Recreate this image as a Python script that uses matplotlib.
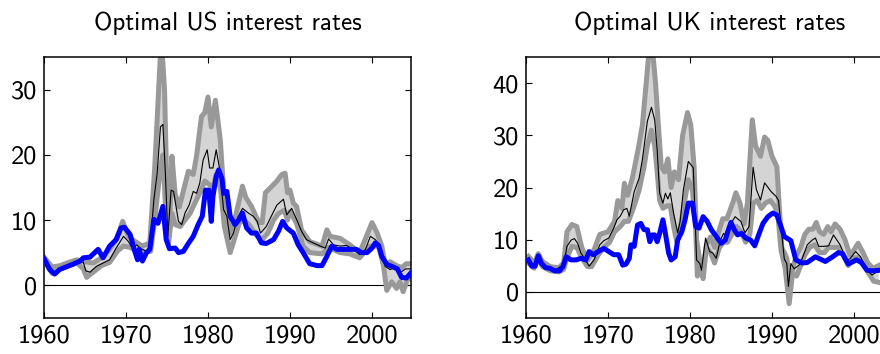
import matplotlib
matplotlib.use("Agg")
import matplotlib.pyplot as plt

plt.rcParams["font.family"] = ["cmss10", "DejaVu Sans"]
plt.rcParams["axes.unicode_minus"] = False

# ---- US ----
us_opt_yr = [1960.0, 1960.7, 1961.3, 1961.9, 1962.7, 1963.5, 1964.4, 1964.8, 1965.6, 1966.6,
             1967.2, 1968.0, 1968.8, 1969.4, 1969.8, 1970.5, 1971.0, 1971.4, 1971.6, 1972.0,
             1972.5, 1972.9, 1973.4, 1973.9, 1974.5, 1974.9, 1975.3, 1976.0, 1976.4, 1977.0,
             1977.6, 1978.2, 1978.8, 1979.3, 1979.7, 1980.1, 1980.4, 1980.6, 1981.0, 1981.3,
             1981.7, 1981.9, 1982.3, 1982.7, 1983.3, 1983.8, 1984.2, 1984.7, 1985.3, 1985.9,
             1986.5, 1987.1, 1988.0, 1988.6, 1989.1, 1989.6, 1990.4, 1991.0, 1991.6, 1992.4,
             1993.3, 1993.9, 1994.4, 1995.1, 1995.7, 1996.9, 1998.1, 1998.7, 1999.4, 2000.0,
             2000.4, 2000.8, 2001.2, 2001.8, 2002.4, 2003.1, 2003.6, 2004.2, 2004.75]
us_opt = [4.1, 2.4, 1.7, 2.4, 2.8, 3.2, 3.7, 4.2, 4.3, 5.5,
          4.2, 6.0, 7.0, 8.8, 8.9, 7.8, 5.5, 3.9, 5.5, 3.7,
          5.0, 5.5, 10.1, 9.5, 12.1, 7.0, 5.6, 5.7, 5.0, 5.2,
          6.4, 7.5, 9.3, 10.6, 14.6, 14.6, 9.8, 13.6, 16.7, 17.7,
          16.4, 14.1, 14.4, 10.6, 9.3, 10.1, 11.1, 8.8, 8.0, 8.0,
          6.5, 6.4, 7.0, 8.3, 9.8, 8.8, 8.0, 6.2, 5.0, 3.3,
          3.0, 3.0, 4.2, 6.0, 5.5, 5.5, 5.5, 5.0, 5.0, 5.7,
          6.5, 6.1, 4.4, 3.2, 2.9, 2.5, 1.2, 1.1, 1.9]

us_med_yr = [1960.0, 1960.7, 1961.3, 1961.9, 1962.7, 1963.5, 1964.4, 1964.8, 1965.1, 1965.6,
             1966.4, 1967.2, 1968.0, 1968.8, 1969.7, 1970.3, 1970.8, 1971.3, 1971.7, 1972.5,
             1972.9, 1973.4, 1973.8, 1974.2, 1974.5, 1974.8, 1975.1, 1975.5, 1975.8, 1976.4,
             1976.8, 1977.2, 1977.7, 1978.2, 1978.6, 1979.0, 1979.4, 1979.9, 1980.2, 1980.6,
             1981.0, 1981.4, 1981.9, 1982.3, 1982.7, 1983.1, 1983.6, 1984.2, 1984.9, 1985.5,
             1986.0, 1986.4, 1987.1, 1987.8, 1988.4, 1989.2, 1989.6, 1990.2, 1990.8, 1991.4,
             1992.0, 1992.8, 1993.7, 1994.3, 1994.7, 1995.3, 1996.1, 1996.9, 1997.7, 1998.5,
             1999.2, 1999.8, 2000.4, 2001.0, 2001.6, 2002.2, 2002.8, 2003.4, 2004.1, 2004.75]
us_med = [4.0, 2.9, 1.9, 2.4, 2.8, 3.2, 3.7, 3.5, 2.2, 2.0,
          2.9, 3.4, 3.9, 5.7, 7.5, 6.7, 5.6, 6.2, 5.7, 5.2,
          5.5, 13.1, 17.2, 24.3, 24.7, 17.2, 7.5, 14.6, 14.4, 9.8,
          9.3, 11.1, 12.3, 14.4, 14.1, 15.7, 19.2, 20.8, 18.0, 18.0,
          20.8, 18.0, 11.6, 10.6, 7.0, 8.0, 10.3, 11.8, 11.1, 10.6,
          9.8, 8.0, 9.0, 10.8, 12.3, 13.2, 10.8, 11.8, 10.1, 8.3,
          7.0, 6.5, 6.0, 5.7, 7.1, 6.2, 6.0, 6.1, 5.5, 4.7,
          5.5, 7.5, 7.0, 6.0, 2.9, 2.4, 2.7, 1.9, 2.5, 2.5]

us_hi_yr = [1960.0, 1961.0, 1962.0, 1963.0, 1964.0, 1965.0, 1966.0, 1967.0, 1968.0, 1968.8,
            1969.6, 1970.3, 1971.0, 1972.0, 1972.9, 1973.5, 1973.9, 1974.3, 1974.7, 1975.0,
            1975.3, 1975.6, 1976.0, 1976.5, 1977.0, 1977.6, 1978.2, 1978.6, 1979.2, 1979.6,
            1980.0, 1980.4, 1980.9, 1981.5, 1981.9, 1982.3, 1982.7, 1983.3, 1984.2, 1984.6,
            1985.3, 1986.2, 1986.6, 1987.0, 1987.8, 1988.4, 1989.0, 1989.4, 1989.7, 1990.0,
            1990.4, 1990.8, 1991.4, 1992.4, 1993.9, 1994.5, 1994.9, 1996.1, 1997.3, 1998.5,
            2000.0, 2000.6, 2001.2, 2001.6, 2002.2, 2003.0, 2003.6, 2004.2, 2004.75]
us_hi = [4.3, 2.8, 3.0, 3.5, 3.9, 3.6, 3.4, 4.2, 5.5, 7.0,
         9.8, 7.5, 6.8, 6.0, 6.5, 18.0, 28.0, 38.0, 30.0, 14.0,
         9.0, 19.8, 14.0, 12.0, 14.5, 17.5, 17.0, 19.8, 25.9, 26.5,
         28.9, 24.3, 28.4, 22.3, 14.7, 10.6, 8.0, 10.3, 15.2, 13.5,
         12.1, 9.6, 9.6, 14.2, 15.2, 16.0, 17.0, 17.2, 14.2, 14.6,
         12.6, 12.1, 8.5, 6.7, 6.0, 8.5, 7.5, 7.2, 6.2, 5.0,
         9.6, 8.1, 6.0, 3.0, 3.6, 3.0, 2.7, 3.3, 3.3]

us_lo_yr = [1960.0, 1961.0, 1962.0, 1963.0, 1964.0, 1964.8, 1965.2, 1966.0, 1967.0, 1968.0,
            1969.0, 1969.7, 1970.5, 1971.3, 1972.3, 1973.0, 1973.5, 1974.2, 1974.5, 1974.9,
            1975.2, 1975.6, 1976.0, 1976.6, 1977.2, 1977.8, 1978.4, 1979.2, 1979.6, 1980.1,
            1980.6, 1981.0, 1981.5, 1982.0, 1982.7, 1983.2, 1983.8, 1984.3, 1985.0, 1986.0,
            1986.6, 1987.3, 1988.0, 1988.6, 1989.3, 1989.7, 1990.0, 1990.8, 1991.6, 1992.4,
            1993.9, 1994.7, 1996.1, 1997.3, 1998.5, 1999.7, 2000.8, 2001.4, 2001.8, 2002.4,
            2003.0, 2003.4, 2003.8, 2004.3, 2004.75]
us_lo = [3.8, 1.8, 2.5, 3.0, 3.4, 2.5, 1.2, 2.0, 3.0, 3.5,
         5.3, 6.0, 5.8, 5.3, 5.0, 5.2, 10.0, 18.0, 20.0, 10.0,
         6.5, 11.0, 9.3, 9.0, 10.0, 11.0, 12.6, 14.7, 16.0, 15.5,
         15.0, 17.0, 15.0, 9.0, 5.0, 7.0, 9.5, 10.0, 9.3, 7.5,
         7.0, 8.0, 10.0, 11.0, 11.5, 10.0, 11.3, 9.5, 6.0, 5.0,
         4.8, 5.8, 5.0, 4.8, 4.2, 6.0, 6.0, 3.0, -0.8, 0.5,
         -0.5, 0.5, -1.0, 0.8, 1.2]

# ---- UK ----
uk_opt_yr = [1960.3, 1960.7, 1961.1, 1961.5, 1961.9, 1962.4, 1962.9, 1963.5, 1964.1, 1964.5,
             1964.9, 1965.5, 1966.1, 1966.7, 1967.3, 1967.7, 1968.2, 1968.9, 1969.5, 1970.1,
             1970.7, 1971.3, 1971.8, 1972.2, 1972.6, 1972.8, 1973.2, 1973.6, 1974.0, 1974.4,
             1974.8, 1975.1, 1975.4, 1975.7, 1976.0, 1976.3, 1976.7, 1977.0, 1977.4, 1977.7,
             1978.2, 1978.5, 1979.0, 1979.4, 1979.8, 1980.3, 1980.7, 1981.1, 1981.6, 1982.1,
             1982.6, 1983.2, 1983.8, 1984.3, 1984.6, 1985.0, 1985.4, 1985.8, 1986.3, 1986.8,
             1987.4, 1987.9, 1988.3, 1988.9, 1989.5, 1990.1, 1990.6, 1991.1, 1991.5, 1992.3,
             1992.9, 1993.7, 1994.3, 1995.3, 1996.5, 1997.3, 1998.1, 1998.6, 1999.3, 2000.3,
             2000.9, 2001.6, 2002.3, 2003.0]
uk_opt = [6.1, 4.9, 4.9, 6.9, 5.4, 4.6, 4.5, 4.0, 4.0, 4.8,
          6.7, 6.1, 6.1, 6.4, 6.1, 7.7, 7.1, 7.8, 8.3, 7.7,
          7.1, 7.1, 5.1, 5.3, 6.4, 9.0, 8.7, 12.8, 13.1, 11.9,
          11.9, 9.6, 10.9, 10.9, 9.6, 11.2, 13.8, 11.2, 7.4, 6.1,
          6.7, 9.9, 11.5, 13.8, 17.0, 17.0, 12.5, 12.2, 14.4, 13.5,
          11.9, 10.6, 9.3, 9.9, 11.5, 13.3, 11.9, 10.9, 11.2, 10.3,
          9.9, 8.8, 10.6, 13.1, 14.4, 15.1, 14.7, 12.5, 10.6, 9.8,
          6.1, 5.5, 5.6, 6.7, 5.8, 6.6, 7.5, 7.3, 5.3, 6.1,
          5.6, 4.1, 4.0, 4.1]

uk_med_yr = [1960.3, 1960.7, 1961.1, 1961.5, 1961.9, 1962.5, 1963.1, 1963.7, 1964.2, 1964.6,
             1965.0, 1965.5, 1965.9, 1966.3, 1966.7, 1967.3, 1967.7, 1968.3, 1969.0, 1969.5,
             1970.1, 1970.7, 1971.1, 1971.5, 1971.9, 1972.3, 1972.6, 1973.2, 1973.8, 1974.2,
             1974.8, 1975.3, 1975.7, 1976.0, 1976.3, 1976.7, 1977.0, 1977.3, 1977.6, 1978.0,
             1978.5, 1978.8, 1979.2, 1979.8, 1980.4, 1980.6, 1980.8, 1981.2, 1981.4, 1981.9,
             1982.4, 1982.8, 1983.2, 1983.7, 1984.1, 1984.4, 1985.0, 1985.5, 1986.2, 1986.7,
             1987.2, 1987.7, 1988.1, 1988.6, 1989.1, 1989.9, 1990.5, 1990.8, 1991.1, 1991.5,
             1991.8, 1992.0, 1992.3, 1992.7, 1993.3, 1993.7, 1994.3, 1994.9, 1995.3, 1995.7,
             1996.3, 1996.9, 1997.5, 1998.3, 1999.1, 1999.5, 2000.2, 2000.8, 2001.6, 2002.2,
             2002.8, 2003.0]
uk_med = [6.1, 4.9, 4.9, 6.7, 5.3, 4.6, 4.3, 4.3, 4.8, 5.1,
          8.7, 9.9, 10.2, 9.3, 7.4, 6.0, 4.9, 6.1, 9.0, 9.8,
          10.3, 12.2, 13.8, 14.5, 15.7, 16.0, 14.5, 19.2, 21.8, 25.4,
          32.7, 35.4, 33.0, 27.2, 18.9, 17.0, 18.9, 17.8, 19.0, 15.1,
          11.3, 13.5, 19.6, 25.0, 23.8, 15.7, 6.1, 5.4, 4.1, 10.3,
          7.7, 7.4, 6.4, 9.9, 11.2, 10.6, 13.1, 14.4, 13.5, 11.3,
          12.5, 23.9, 19.6, 17.6, 20.9, 19.2, 18.3, 17.5, 12.6, 6.3,
          5.4, 1.0, 5.4, 4.4, 5.1, 6.4, 9.0, 9.9, 10.3, 8.7,
          8.7, 8.8, 10.9, 9.0, 6.1, 6.3, 7.7, 6.7, 4.1, 3.2,
          3.8, 3.8]

uk_hi_yr = [1960.3, 1961.0, 1961.5, 1962.0, 1963.0, 1964.0, 1964.6, 1965.0, 1965.6, 1966.2,
            1966.8, 1967.5, 1968.3, 1969.0, 1970.0, 1970.8, 1971.2, 1971.7, 1972.0, 1972.4,
            1973.0, 1973.7, 1974.2, 1974.6, 1975.0, 1975.4, 1975.8, 1976.1, 1976.5, 1976.9,
            1977.3, 1977.7, 1978.1, 1978.6, 1979.1, 1979.7, 1980.1, 1980.5, 1980.8, 1981.2,
            1981.6, 1982.0, 1982.5, 1983.0, 1983.5, 1984.0, 1984.5, 1985.2, 1985.6, 1986.1,
            1986.6, 1987.0, 1987.6, 1988.0, 1988.6, 1989.1, 1989.5, 1990.0, 1990.6, 1990.9,
            1991.2, 1991.8, 1992.2, 1992.6, 1993.0, 1993.5, 1994.0, 1994.5, 1995.0, 1995.4,
            1995.8, 1996.3, 1996.8, 1997.2, 1997.7, 1998.3, 1998.9, 1999.5, 2000.0, 2000.5,
            2001.1, 2001.7, 2002.3, 2003.0]
uk_hi = [6.8, 5.5, 7.3, 5.8, 4.8, 4.6, 5.5, 11.5, 12.9, 12.5,
         8.5, 6.0, 8.0, 11.0, 11.5, 13.5, 17.5, 16.0, 20.8, 18.5,
         22.0, 27.5, 32.0, 39.0, 46.0, 47.0, 40.0, 33.0, 24.0, 23.0,
         25.5, 20.0, 23.0, 21.5, 30.0, 34.4, 32.0, 24.0, 10.0, 6.0,
         4.5, 9.0, 10.5, 8.5, 11.5, 14.0, 14.0, 17.0, 19.0, 17.0,
         13.0, 17.0, 33.0, 28.0, 26.0, 29.7, 29.0, 26.0, 24.0, 16.0,
         8.5, 6.5, 1.5, 5.0, 7.0, 8.5, 11.0, 12.0, 12.0, 13.3,
         11.5, 11.0, 12.5, 11.5, 13.0, 12.0, 10.0, 7.0, 8.0, 9.3,
         7.5, 5.5, 4.5, 5.0]

uk_lo_yr = [1960.3, 1961.0, 1961.5, 1962.0, 1963.0, 1964.0, 1964.6, 1965.0, 1965.6, 1966.2,
            1966.8, 1967.5, 1968.0, 1968.8, 1969.5, 1970.2, 1970.8, 1971.5, 1972.0, 1972.5,
            1973.2, 1973.8, 1974.4, 1974.8, 1975.3, 1975.7, 1976.0, 1976.3, 1976.7, 1977.2,
            1977.6, 1978.0, 1978.4, 1978.8, 1979.3, 1979.8, 1980.3, 1980.7, 1980.9, 1981.3,
            1981.6, 1982.0, 1982.5, 1983.0, 1983.6, 1984.1, 1984.6, 1985.1, 1985.7, 1986.2,
            1986.8, 1987.3, 1987.7, 1988.2, 1988.7, 1989.2, 1989.8, 1990.3, 1990.7, 1991.1,
            1991.6, 1992.1, 1992.5, 1993.0, 1993.5, 1994.0, 1994.6, 1995.2, 1995.8, 1996.4,
            1996.9, 1997.5, 1998.1, 1998.7, 1999.3, 2000.0, 2000.6, 2001.2, 2001.8, 2002.4,
            2003.0]
uk_lo = [5.5, 4.5, 6.3, 4.8, 4.0, 3.8, 4.3, 6.5, 8.7, 8.5,
         6.5, 4.8, 4.8, 7.0, 8.5, 9.5, 11.5, 12.5, 13.5, 13.5,
         16.5, 19.5, 24.0, 28.0, 31.0, 28.0, 23.0, 17.5, 16.0, 16.5,
         16.5, 12.5, 9.5, 12.0, 17.0, 21.5, 19.5, 12.0, 3.0, 4.5,
         2.5, 8.5, 7.5, 5.5, 8.5, 9.5, 9.5, 11.0, 12.5, 11.5,
         9.5, 11.0, 17.0, 17.5, 16.0, 17.0, 17.5, 16.5, 15.0, 8.0,
         4.5, -2.3, 3.5, 3.0, 5.0, 7.0, 8.5, 9.0, 7.5, 7.5,
         8.5, 8.5, 8.5, 7.0, 5.0, 6.5, 6.5, 5.0, 3.5, 2.0,
         1.8]

BAND_GREY = "#999999"
FILL_GREY = "#d4d4d4"


def draw_panel(ax, title, opt, med, hi, lo, ylim, yticks):
    (opt_yr, opt_v), (med_yr, med_v), (hi_yr, hi_v), (lo_yr, lo_v) = opt, med, hi, lo
    # shaded region between the upper and lower bands
    ax.fill(list(hi_yr) + list(lo_yr)[::-1], list(hi_v) + list(lo_v)[::-1],
            color=FILL_GREY, lw=0, zorder=1)
    ax.plot(hi_yr, hi_v, color=BAND_GREY, lw=3.6, zorder=2, solid_joinstyle="round")
    ax.plot(lo_yr, lo_v, color=BAND_GREY, lw=3.6, zorder=2, solid_joinstyle="round")
    ax.plot(med_yr, med_v, color="black", lw=0.8, zorder=3)
    ax.plot(opt_yr, opt_v, color="#0000ff", lw=3.6, zorder=4, solid_joinstyle="round")
    ax.axhline(0, color="black", lw=0.8, zorder=0)

    ax.set_xlim(1960, 2004.75)
    ax.set_ylim(*ylim)
    ax.set_xticks([1960, 1970, 1980, 1990, 2000])
    ax.set_yticks(yticks)
    ax.tick_params(direction="in", top=True, right=True, length=4, width=0.8,
                   labelsize=19, pad=5)
    for sp in ax.spines.values():
        sp.set_linewidth(1.1)
    ax.set_title(title, fontsize=18, pad=20)


fig = plt.figure(figsize=(8.8, 3.54), dpi=100)
ax1 = fig.add_axes([0.05, 0.1025, 0.417, 0.7356])
ax2 = fig.add_axes([0.5977, 0.1025, 0.417, 0.7356])

draw_panel(ax1, "Optimal US interest rates",
           (us_opt_yr, us_opt), (us_med_yr, us_med), (us_hi_yr, us_hi), (us_lo_yr, us_lo),
           (-5, 35), [0, 10, 20, 30])
draw_panel(ax2, "Optimal UK interest rates",
           (uk_opt_yr, uk_opt), (uk_med_yr, uk_med), (uk_hi_yr, uk_hi), (uk_lo_yr, uk_lo),
           (-5, 45), [0, 10, 20, 30, 40])

fig.savefig("out.png", dpi=100)
